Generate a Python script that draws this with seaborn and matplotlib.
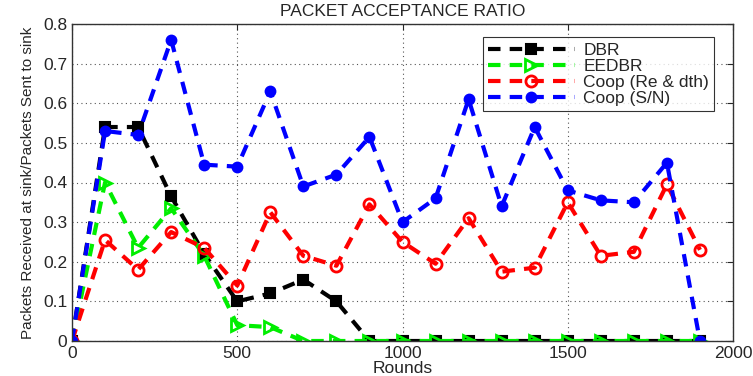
import matplotlib
matplotlib.use("Agg")
import matplotlib.pyplot as plt
import seaborn as sns
import pandas as pd

rounds = [0, 100, 200, 300, 400, 500, 600, 700, 800, 900, 1000, 1100, 1200, 1300, 1400, 1500, 1600, 1700, 1800, 1900]
dbr = [0, 0.54, 0.54, 0.365, 0.22, 0.10, 0.12, 0.155, 0.10, 0, 0, 0, 0, 0, 0, 0, 0, 0, 0, 0]
eedbr = [0, 0.40, 0.235, 0.335, 0.215, 0.04, 0.035, 0, 0, 0, 0, 0, 0, 0, 0, 0, 0, 0, 0, 0]
coop_re = [0, 0.255, 0.18, 0.275, 0.235, 0.14, 0.325, 0.215, 0.19, 0.345, 0.25, 0.195, 0.31, 0.175, 0.185, 0.35, 0.215, 0.225, 0.395, 0.23]
coop_sn = [0, 0.53, 0.52, 0.76, 0.445, 0.44, 0.63, 0.39, 0.42, 0.515, 0.30, 0.36, 0.61, 0.34, 0.54, 0.38, 0.355, 0.35, 0.45, 0]
labels = ["DBR", "EEDBR", "Coop (Re & dth)", "Coop (S/N)"]

sns.set_style("white")
plt.rcParams['font.family'] = ['Liberation Sans', 'DejaVu Sans']

fig = plt.figure(figsize=(7.53, 3.76), dpi=100)
ax = fig.add_axes([72/753, 1-341/376, (733-72)/753, (341-24)/376])

styles = [
    dict(color="black", marker="s", mfc="black", mec="black", ms=7),
    dict(color="#00ee00", marker=">", mfc="none", mec="#00ee00", ms=9, mew=2),
    dict(color="red", marker="o", mfc="none", mec="red", ms=8, mew=2),
    dict(color="blue", marker="o", mfc="blue", mec="blue", ms=7),
]
for vals, lab, st in zip([dbr, eedbr, coop_re, coop_sn], labels, styles):
    df = pd.DataFrame({"Rounds": rounds, "v": vals})
    sns.lineplot(data=df, x="Rounds", y="v", ax=ax, label=lab, linestyle=(0, (3, 2.2)),
                 linewidth=3, markeredgewidth=st.pop("mew", 1.5), **st)

ax.set_xlim(0, 2000)
ax.set_ylim(0, 0.8)
ax.set_xticks([0, 500, 1000, 1500, 2000])
ax.set_yticks([0, 0.1, 0.2, 0.3, 0.4, 0.5, 0.6, 0.7, 0.8])
ax.set_yticklabels(["0", "0.1", "0.2", "0.3", "0.4", "0.5", "0.6", "0.7", "0.8"])
ax.grid(True, linestyle=(0, (1, 3)), color="#555555", linewidth=0.8)
for s in ax.spines.values():
    s.set_color("#333333")
    s.set_linewidth(1)
ax.tick_params(labelsize=12.5, length=4, direction="in", top=True, right=True)
ax.set_title("PACKET ACCEPTANCE RATIO", fontsize=12.5, pad=6)
ax.set_xlabel("Rounds", fontsize=12.5, labelpad=0)
ax.set_ylabel("Packets Received at sink/Packets Sent to sink", fontsize=11, labelpad=6)
leg = ax.legend(loc="upper right", fontsize=12.5, frameon=True, fancybox=False,
                edgecolor="black", borderpad=0.3, labelspacing=0.05, handlelength=5,
                handletextpad=0.5, bbox_to_anchor=(0.985, 0.985))
leg.get_frame().set_linewidth(0.8)
fig.savefig("out.png", dpi=100)
